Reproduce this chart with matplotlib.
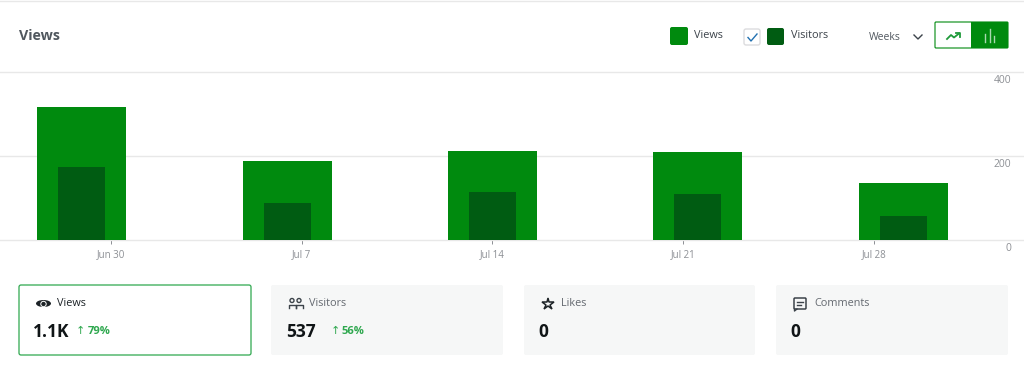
import matplotlib
matplotlib.use('Agg')
from matplotlib import pyplot as plt
from matplotlib.patches import FancyBboxPatch, Rectangle, Circle, Ellipse
from matplotlib.transforms import ScaledTranslation

plt.rcParams['font.family'] = ['Open Sans', 'DejaVu Sans']

# Chart data
weeks = [0, 1, 2, 3, 4]
views = [317, 189, 212, 210, 136]
visitors = [174, 87, 114, 110, 57]
tick_pos = [0.141, 1.071, 2.0, 2.93, 3.86]
tick_labels = ['Jun 30', 'Jul 7', 'Jul 14', 'Jul 21', 'Jul 28']
y_ticks = [0, 200, 400]

# Stat cards under the chart
card_names = ['Views', 'Visitors', 'Likes', 'Comments']
card_values = ['1.1K', '537', '0', '0']
card_changes = ['79%', '56%', None, None]

GREEN = '#008a0e'
DARK = '#005c12'
LINE = '#e8e8e8'
TEXT = '#50575e'

fig = plt.figure(figsize=(10.24, 3.71), dpi=100)

# Bars
ax = fig.add_axes([0, (371 - 240) / 371, 1, 168 / 371])
ax.bar(weeks, views, width=0.434, color=GREEN, zorder=3)
ax.bar(weeks, visitors, width=0.229, color=DARK, zorder=4)
ax.set_xlim(-0.398, 4.588)
ax.set_ylim(0, 400)
ax.set_xticks(tick_pos)
ax.set_xticklabels(tick_labels, fontsize=7, color='#8c8f94')
ax.tick_params(axis='x', length=3, width=0.7, color='#8c8f94', pad=3.3)
ax.yaxis.tick_right()
ax.set_yticks(y_ticks)
ax.set_yticklabels(y_ticks, fontsize=7.4, color='#8c8f94', va='center', ha='right')
ax.tick_params(axis='y', length=0, pad=-9.4)
for lab in ax.get_yticklabels():
    lab.set_transform(lab.get_transform() + ScaledTranslation(0, -8.5 / 100, fig.dpi_scale_trans))
ax.grid(axis='y', color=LINE, linewidth=1.0, zorder=0)
for l in ax.get_ygridlines():
    l.set_clip_on(False)
for s in ax.spines.values():
    s.set_visible(False)
ax.patch.set_alpha(0)

# Everything else, in pixel coordinates
ui = fig.add_axes([0, 0, 1, 1], zorder=5)
ui.set_xlim(0, 1024)
ui.set_ylim(371, 0)
ui.axis('off')


def box(x0, y0, x1, y1, face, edge='none', lw=0, r=2):
    ui.add_patch(FancyBboxPatch((x0 + r, y0 + r), x1 - x0 - 2 * r, y1 - y0 - 2 * r,
                                boxstyle='round,pad=%s,rounding_size=%s' % (r, r),
                                facecolor=face, edgecolor=edge, linewidth=lw))


ui.plot([0, 1024], [0.5, 0.5], color=LINE, lw=1.0)

ui.text(19, 36.5, 'Views', fontsize=10.3, fontweight='bold', color=TEXT, va='center')

# Legend
box(670, 27, 688, 45, GREEN)
ui.text(694, 35, 'Views', fontsize=7.8, color='#3c434a', va='center')
box(744, 29, 760, 45, 'white', '#dcdcde', 1)
ui.plot([748, 751, 757], [37.5, 41, 34], color='#2271b1', lw=1)
box(767, 28, 784, 45, DARK)
ui.text(791, 36, 'Visitors', fontsize=7.8, color='#3c434a', va='center')

# Period picker
ui.text(869, 37, 'Weeks', fontsize=7.5, color=TEXT, va='center')
ui.plot([914, 918, 922], [35, 39, 35], color='#3c434a', lw=1)

# Line / bar toggle
box(935, 22, 1008, 48, 'white', GREEN, 0.8, r=1)
ui.add_patch(Rectangle((971, 22), 37, 26, facecolor=GREEN))
ui.plot([947, 951, 954, 959], [39, 35, 37.5, 33.5], color='#1f9a3a', lw=1.3)
ui.plot([955.5, 960, 960], [33, 33, 37], color='#1f9a3a', lw=1.3)
for bx, by in [(985, 34), (989.5, 29), (994, 36)]:
    ui.plot([bx, bx], [42, by], color='#a8d8ae', lw=1)

# Stat cards
card_x = [(19, 251), (271, 503), (524, 755), (776, 1008)]
label_x = [57, 309, 561, 814]
value_x = [33, 286, 538, 790]
arrow_x = [80, 335]
pct_x = [88, 341]
for i in range(4):
    x0, x1 = card_x[i]
    if i == 0:
        box(x0, 285, x1, 355, 'white', '#2fa84f', 0.9)
    else:
        box(x0, 285, x1, 355, '#f6f7f7')
    ui.text(label_x[i], 304, card_names[i], fontsize=7.8,
            color='#1d2327' if i == 0 else '#646970', va='center')
    ui.text(value_x[i], 332, card_values[i], fontsize=12.5, fontweight='bold',
            color='#101517', va='center')
    if card_changes[i]:
        ui.text(arrow_x[i], 331, '↑', fontsize=8, color='#2fa84f', va='center', ha='center',
                family=['DejaVu Sans'])
        ui.text(pct_x[i], 332, card_changes[i], fontsize=8, fontweight='bold',
                color='#2fa84f', va='center')

# Card icons
ui.add_patch(Ellipse((43.5, 303.5), 15, 7, facecolor='#1d2327'))
ui.add_patch(Circle((43.5, 304), 3.2, facecolor='white'))
ui.add_patch(Circle((43.5, 304), 2.2, facecolor='#1d2327'))
for cx in [292, 299]:
    ui.add_patch(Circle((cx, 300.5), 2, facecolor='none', edgecolor='#3c434a', lw=1))
    ui.plot([cx - 3.5, cx - 3.5, cx + 3.5, cx + 3.5], [308, 305, 305, 308], color='#3c434a', lw=1)
ui.plot([548], [304], marker='*', markersize=9, markerfacecolor='none',
        markeredgecolor='#1d2327', markeredgewidth=1.1)
box(794, 298, 806, 309, 'none', '#3c434a', 1.1, r=1)
ui.plot([797, 803], [302, 302], color='#3c434a', lw=1)
ui.plot([797, 801], [305, 305], color='#3c434a', lw=1)
ui.plot([794.5, 794.5, 797], [309, 311, 309], color='#3c434a', lw=1)

fig.savefig('out.png', dpi=100)
